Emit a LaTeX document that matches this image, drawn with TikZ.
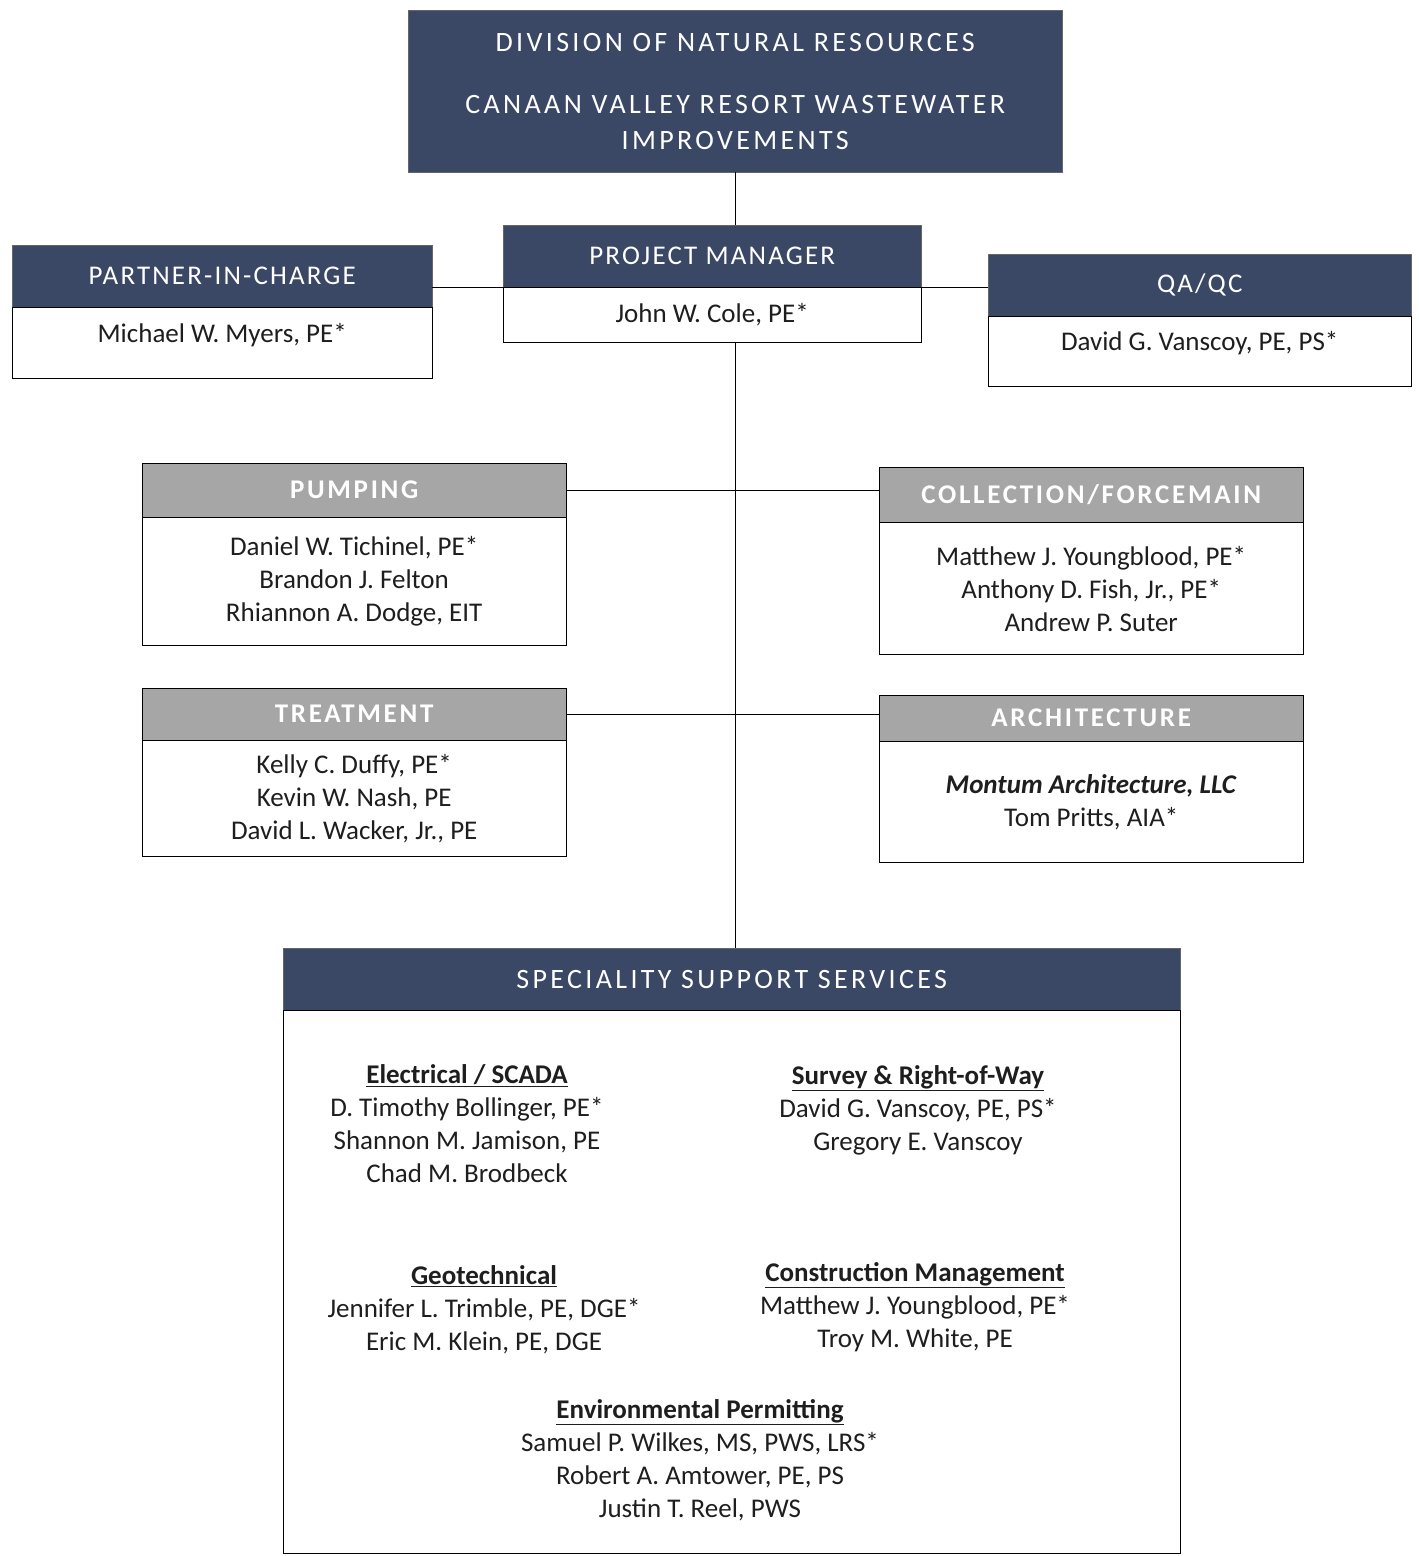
\documentclass[tikz,border=0pt]{standalone}
\usepackage{fontspec}
\setmainfont{Carlito}
\usetikzlibrary{positioning}
\definecolor{navy}{RGB}{58,72,102}
\definecolor{headgray}{RGB}{166,166,166}
\definecolor{inkgray}{RGB}{30,30,30}

\begin{document}
\begin{tikzpicture}[x = 1pt, y = -1pt,
navyhead/.style = {draw = black!60, fill = navy, text = white, anchor = north west, inner sep = 0pt, align = center, font = \fontsize{27}{33}\selectfont\addfontfeatures{LetterSpace=8}},
grayhead/.style = {draw = black, fill = headgray, text = white, anchor = north west, inner sep = 0pt, minimum width = 424pt, font = \fontsize{27}{33}\selectfont\bfseries\addfontfeatures{LetterSpace=10}},
namebox/.style = {draw = black, fill = white, text = inkgray, align = center, inner sep = 0pt, font = \fontsize{27}{33}\selectfont},
group/.style = {text = inkgray, align = center, inner sep = 0pt, font = \fontsize{27}{33}\selectfont},
]
\useasboundingbox (0,0) rectangle (1419,1556);

% top
\node[navyhead, minimum width = 654pt, minimum height = 162pt, font = \fontsize{28}{36}\selectfont\addfontfeatures{LetterSpace=12}] (top) at (408,10)
  {DIVISION OF NATURAL RESOURCES\\[26pt]CANAAN VALLEY RESORT WASTEWATER\\IMPROVEMENTS};

% first row
\node[navyhead, minimum width = 418pt, minimum height = 62pt] (pmhead) at (503,225) {PROJECT MANAGER};
\node[namebox, minimum width = 418pt, minimum height = 55pt] (pmbody) [below = 0pt of pmhead] {John W. Cole, PE*};

\node[navyhead, minimum width = 420pt, minimum height = 62pt] (pichead) at (12,245) {PARTNER-IN-CHARGE};
\node[namebox, minimum width = 420pt, minimum height = 71pt, text depth = 20pt] (picbody) [below = 0pt of pichead] {Michael W. Myers, PE*};

\node[navyhead, minimum width = 423pt, minimum height = 62pt] (qahead) at (988,254) {QA/QC};
\node[namebox, minimum width = 423pt, minimum height = 70pt, text depth = 22pt] (qabody) [below = 0pt of qahead] {David G. Vanscoy, PE, PS*};

% disciplines
\node[grayhead, minimum height = 54pt] (pumphead) at (142,463) {PUMPING};
\node[namebox, minimum width = 424pt, minimum height = 128pt] (pumpbody) [below = 0pt of pumphead]
  {Daniel W. Tichinel, PE*\\Brandon J. Felton\\Rhiannon A. Dodge, EIT};

\node[grayhead, minimum height = 55pt] (collhead) at (879,467) {COLLECTION/FORCEMAIN};
\node[namebox, minimum width = 424pt, minimum height = 132pt] (collbody) [below = 0pt of collhead]
  {Matthew J. Youngblood, PE*\\Anthony D. Fish, Jr., PE*\\Andrew P. Suter};

\node[grayhead, minimum height = 52pt] (treathead) at (142,688) {TREATMENT};
\node[namebox, minimum width = 424pt, minimum height = 116pt] (treatbody) [below = 0pt of treathead]
  {Kelly C. Duffy, PE*\\Kevin W. Nash, PE\\David L. Wacker, Jr., PE};

\node[grayhead, minimum height = 46pt] (archhead) at (879,695) {ARCHITECTURE};
\node[namebox, minimum width = 424pt, minimum height = 121pt] (archbody) [below = 0pt of archhead]
  {\textbf{\textit{Montum Architecture, LLC}}\\Tom Pritts, AIA*};

% support services
\node[navyhead, minimum width = 897pt, minimum height = 62pt, font = \fontsize{28}{33}\selectfont\addfontfeatures{LetterSpace=12}] (ssshead) at (283,948) {SPECIALITY SUPPORT SERVICES};
\node[draw = black, anchor = north west, minimum width = 897pt, minimum height = 543pt, inner sep = 0pt] (sssbody) at (283,1010) {};

\node[group] (elec) at (467,1124) {\underline{\textbf{Electrical / SCADA}}\\D. Timothy Bollinger, PE*\\Shannon M. Jamison, PE\\Chad M. Brodbeck};
\node[group] (surv) at (918,1110) {\underline{\textbf{Survey \& Right-of-Way}}\\David G. Vanscoy, PE, PS*\\Gregory E. Vanscoy};
\node[group] (geo) at (484,1310) {\underline{\textbf{Geotechnical}}\\Jennifer L. Trimble, PE, DGE*\\Eric M. Klein, PE, DGE};
\node[group] (cm) at (915,1307) {\underline{\textbf{Construction Management}}\\Matthew J. Youngblood, PE*\\Troy M. White, PE};
\node[group] (env) at (700,1460) {\underline{\textbf{Environmental Permitting}}\\Samuel P. Wilkes, MS, PWS, LRS*\\Robert A. Amtower, PE, PS\\Justin T. Reel, PWS};

% connectors
\draw (top.south) -- (top.south |- pmhead.north);
\draw (pmbody.north west) -- (pmbody.north west -| pichead.east);
\draw (pmbody.north east) -- (pmbody.north east -| qahead.west);
\draw (top.south |- pmbody.south) -- (top.south |- ssshead.north);
\draw (pumphead.east) -- (pumphead.east -| collhead.west);
\draw (treathead.east) -- (treathead.east -| archhead.west);
\end{tikzpicture}
\end{document}
